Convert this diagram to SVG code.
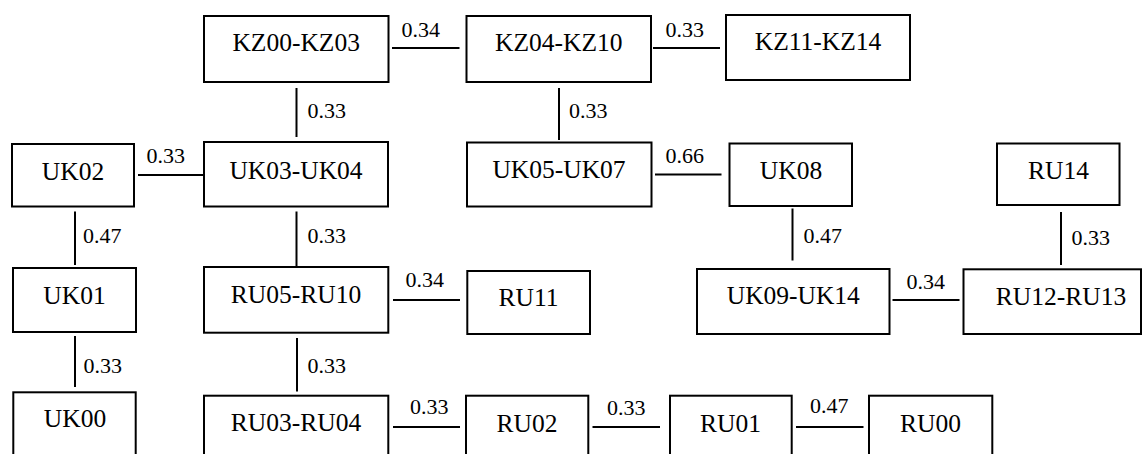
<svg xmlns="http://www.w3.org/2000/svg" width="1143" height="454" viewBox="0 0 1143 454">
  <style>
    .box { fill: #ffffff; stroke: #000000; stroke-width: 2; }
    .name { font-family: "Liberation Serif", "Times New Roman", serif; font-size: 25.5px; fill: #000000; text-anchor: middle; }
    .link { stroke: #000000; stroke-width: 2; fill: none; }
    .w { font-family: "Liberation Serif", "Times New Roman", serif; font-size: 22px; fill: #000000; }
  </style>
  <rect width="1143" height="454" fill="#ffffff"/>

  <!-- links with weights -->
  <g id="connectors">
    <line class="link" x1="392" y1="48" x2="459.5" y2="48"/>
    <text class="w" x="401.5" y="37">0.34</text>
    <line class="link" x1="653" y1="48" x2="720" y2="48"/>
    <text class="w" x="665.5" y="37">0.33</text>

    <line class="link" x1="296.5" y1="88" x2="296.5" y2="137"/>
    <text class="w" x="307.5" y="118">0.33</text>
    <line class="link" x1="559" y1="88" x2="559" y2="140"/>
    <text class="w" x="569" y="118">0.33</text>

    <line class="link" x1="138" y1="175" x2="204" y2="175"/>
    <text class="w" x="146.5" y="163">0.33</text>
    <line class="link" x1="655" y1="174.5" x2="721.5" y2="174.5"/>
    <text class="w" x="665.5" y="163">0.66</text>

    <line class="link" x1="75" y1="211.5" x2="75" y2="265"/>
    <text class="w" x="83" y="243">0.47</text>
    <line class="link" x1="296.5" y1="211.5" x2="296.5" y2="266"/>
    <text class="w" x="307.5" y="243">0.33</text>
    <line class="link" x1="792.5" y1="208.5" x2="792.5" y2="260.5"/>
    <text class="w" x="803.5" y="243">0.47</text>
    <line class="link" x1="1061" y1="212" x2="1061" y2="265"/>
    <text class="w" x="1071.5" y="245">0.33</text>

    <line class="link" x1="393" y1="300" x2="460" y2="300"/>
    <text class="w" x="405.5" y="287">0.34</text>
    <line class="link" x1="892.5" y1="300" x2="959.5" y2="300"/>
    <text class="w" x="906.5" y="289">0.34</text>

    <line class="link" x1="75" y1="336" x2="75" y2="387"/>
    <text class="w" x="83.5" y="373">0.33</text>
    <line class="link" x1="297" y1="338" x2="297" y2="391.5"/>
    <text class="w" x="307.5" y="373">0.33</text>

    <line class="link" x1="393" y1="427" x2="460" y2="427"/>
    <text class="w" x="410" y="414">0.33</text>
    <line class="link" x1="592.5" y1="427" x2="660" y2="427"/>
    <text class="w" x="607" y="415">0.33</text>
    <line class="link" x1="796" y1="427" x2="863.5" y2="427"/>
    <text class="w" x="810" y="413">0.47</text>
  </g>

  <!-- top row -->
  <g id="kz00-kz03"><rect class="box" x="204" y="16" width="184.5" height="66"/><text class="name" x="296.2" y="51">KZ00-KZ03</text></g>
  <g id="kz04-kz10"><rect class="box" x="466.5" y="16" width="184.5" height="66"/><text class="name" x="558.8" y="51">KZ04-KZ10</text></g>
  <g id="kz11-kz14"><rect class="box" x="726" y="15" width="184" height="65"/><text class="name" x="818" y="50">KZ11-KZ14</text></g>

  <!-- second row -->
  <g id="uk02"><rect class="box" x="12" y="144" width="122" height="62.5"/><text class="name" x="73" y="180">UK02</text></g>
  <g id="uk03-uk04"><rect class="box" x="204" y="142" width="184" height="64.5"/><text class="name" x="296" y="179">UK03-UK04</text></g>
  <g id="uk05-uk07"><rect class="box" x="467" y="142.5" width="184.5" height="64"/><text class="name" x="559" y="177.5">UK05-UK07</text></g>
  <g id="uk08"><rect class="box" x="729.5" y="143.5" width="122.5" height="62.5"/><text class="name" x="791" y="179">UK08</text></g>
  <g id="ru14"><rect class="box" x="997" y="143.5" width="122.5" height="61.5"/><text class="name" x="1058.5" y="178.5">RU14</text></g>

  <!-- third row -->
  <g id="uk01"><rect class="box" x="13" y="268" width="123" height="64"/><text class="name" x="74.5" y="303.5">UK01</text></g>
  <g id="ru05-ru10"><rect class="box" x="204" y="267" width="184.3" height="65.7"/><text class="name" x="296" y="303">RU05-RU10</text></g>
  <g id="ru11"><rect class="box" x="467.3" y="271" width="122.7" height="63"/><text class="name" x="528.5" y="306">RU11</text></g>
  <g id="uk09-uk14"><rect class="box" x="697" y="269" width="192.5" height="65"/><text class="name" x="793.3" y="304">UK09-UK14</text></g>
  <g id="ru12-ru13"><rect class="box" x="963.5" y="269.3" width="177.5" height="64.7"/><text class="name" x="1061" y="305">RU12-RU13</text></g>

  <!-- bottom row, running past the lower edge -->
  <g id="uk00"><rect class="box" x="13.3" y="392.3" width="122.4" height="90"/><text class="name" x="75" y="427">UK00</text></g>
  <g id="ru03-ru04"><rect class="box" x="204" y="395.7" width="184.3" height="90"/><text class="name" x="296" y="430.5">RU03-RU04</text></g>
  <g id="ru02"><rect class="box" x="466" y="395.7" width="122.3" height="90"/><text class="name" x="527" y="431.5">RU02</text></g>
  <g id="ru01"><rect class="box" x="670" y="395.7" width="121.7" height="90"/><text class="name" x="730.5" y="431.5">RU01</text></g>
  <g id="ru00"><rect class="box" x="869" y="395.7" width="123.3" height="90"/><text class="name" x="930.5" y="431.5">RU00</text></g>
</svg>
